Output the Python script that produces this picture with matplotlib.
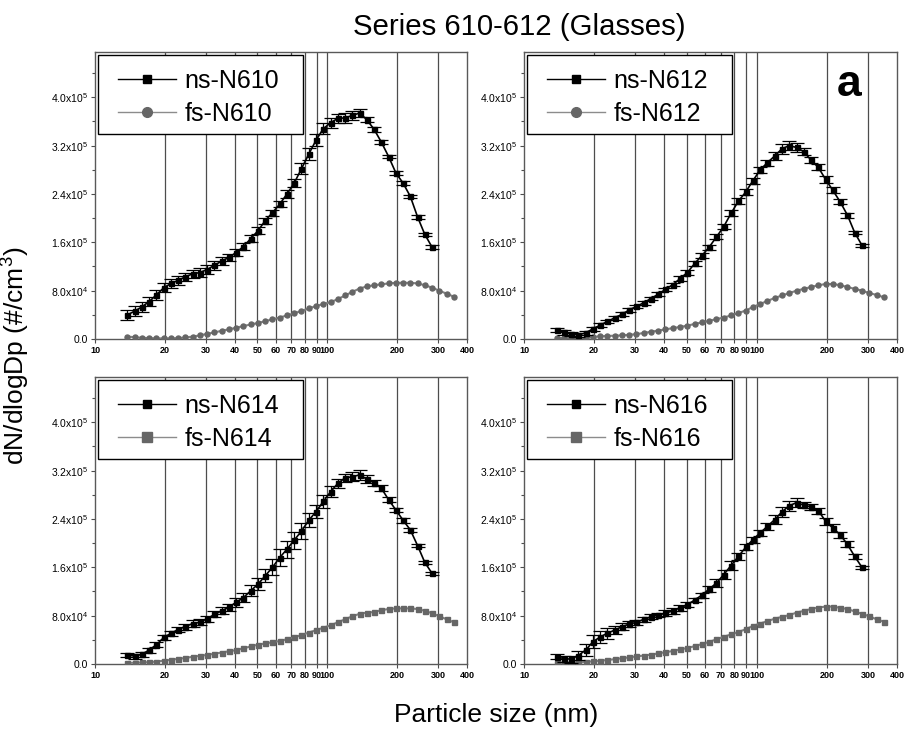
import matplotlib
matplotlib.use("Agg")
import matplotlib.pyplot as plt
from matplotlib.lines import Line2D
from matplotlib.patches import Rectangle

plt.rcParams['font.family'] = ['Liberation Sans', 'DejaVu Sans']
plt.rcParams['mathtext.fontset'] = 'custom'
plt.rcParams['mathtext.rm'] = 'Liberation Sans'

# particle diameters (nm) of the size channels
d_ns = [13.8, 14.8, 15.9, 17.1, 18.4, 19.8, 21.3, 22.8, 24.5, 26.4, 28.3, 30.4, 32.7, 35.1,
        37.7, 40.5, 43.6, 46.8, 50.3, 54.1, 58.1, 62.4, 67.1, 72.1, 77.5, 83.3, 89.5, 96.2,
        103.4, 111.1, 119.4, 128.3, 137.8, 148.1, 159.2, 171.0, 183.8, 197.5, 212.2, 228.0,
        245.0, 263.3, 282.9]
d_fs = d_ns + [304.0, 326.7, 351.1]

# dN/dlogDp in units of 1e4 #/cm3
ns610 = [4.0, 4.6, 5.3, 6.2, 7.3, 8.5, 9.2, 9.7, 10.3, 10.8, 11.0, 11.5, 12.2, 12.9, 13.5, 14.3,
         15.3, 16.6, 17.9, 19.6, 20.9, 22.3, 24.0, 25.8, 28.2, 30.6, 32.9, 34.8, 35.8, 36.5, 36.6,
         37.0, 37.4, 36.3, 34.7, 32.6, 30.2, 27.5, 25.8, 23.6, 20.2, 17.3, 15.2]
err610 = [0.8, 0.8, 0.8, 0.7, 0.8, 0.8, 0.8, 0.8, 0.7, 0.7, 0.7, 0.7, 0.7, 0.7, 0.6, 0.6, 0.6,
          0.6, 0.6, 0.5, 0.5, 0.5, 0.6, 0.7, 0.9, 1.0, 1.0, 0.9, 0.8, 0.7, 0.8, 0.7, 0.6, 0.4,
          0.4, 0.3, 0.3, 0.3, 0.3, 0.3, 0.3, 0.3, 0.3]
fs610 = [0.4, 0.3, 0.2, 0.15, 0.1, 0.1, 0.1, 0.15, 0.25, 0.4, 0.6, 0.85, 1.1, 1.35, 1.6, 1.85,
         2.15, 2.4, 2.65, 2.95, 3.25, 3.55, 3.9, 4.25, 4.65, 5.05, 5.45, 5.8, 6.1, 6.6, 7.2, 7.8,
         8.35, 8.7, 8.9, 9.05, 9.2, 9.3, 9.3, 9.3, 9.2, 8.9, 8.5, 8.0, 7.5, 7.0]

ns612 = [1.5, 1.1, 0.8, 0.7, 1.0, 1.7, 2.3, 2.9, 3.5, 4.1, 4.8, 5.4, 6.0, 6.7, 7.4, 8.2, 9.0,
         10.0, 11.0, 12.5, 13.8, 15.2, 16.9, 18.6, 20.8, 22.8, 24.3, 26.2, 28.0, 29.2, 30.3, 31.5,
         32.0, 31.7, 31.0, 29.6, 28.4, 26.4, 24.6, 22.7, 20.5, 17.6, 15.5]
err612 = [0.4, 0.4, 0.3, 0.3, 0.3, 0.3, 0.3, 0.3, 0.3, 0.3, 0.3, 0.3, 0.3, 0.3, 0.3, 0.3, 0.3,
          0.4, 0.4, 0.4, 0.4, 0.4, 0.4, 0.4, 0.5, 0.5, 0.5, 0.5, 0.5, 0.5, 0.6, 0.8, 0.8, 0.8,
          0.6, 0.5, 0.5, 0.6, 0.5, 0.4, 0.4, 0.3, 0.3]
fs612 = [0.2, 0.15, 0.1, 0.1, 0.2, 0.35, 0.45, 0.5, 0.55, 0.6, 0.7, 0.8, 1.0, 1.2, 1.4, 1.6,
         1.8, 2.0, 2.2, 2.5, 2.75, 3.0, 3.3, 3.55, 3.9, 4.3, 4.7, 5.3, 5.8, 6.3, 6.8, 7.2, 7.6,
         8.0, 8.3, 8.6, 8.9, 9.1, 9.1, 8.9, 8.6, 8.3, 8.0, 7.6, 7.3, 6.9]

ns614 = [1.5, 1.3, 1.6, 2.3, 3.2, 4.4, 5.1, 5.7, 6.2, 6.7, 6.9, 7.5, 8.2, 8.8, 9.4, 10.2, 11.0,
         12.1, 13.2, 14.6, 16.0, 17.6, 19.0, 20.5, 22.0, 23.8, 25.2, 26.9, 28.5, 29.9, 30.8, 31.0,
         31.3, 30.6, 30.0, 29.1, 27.2, 25.5, 23.8, 22.2, 19.6, 16.8, 15.0]
err614 = [0.4, 0.4, 0.4, 0.4, 0.4, 0.4, 0.4, 0.4, 0.5, 0.5, 0.5, 0.5, 0.5, 0.6, 0.6, 0.7, 0.8,
          0.9, 1.0, 1.1, 1.3, 1.4, 1.4, 1.4, 1.3, 1.2, 1.1, 1.0, 0.9, 0.8, 0.7, 0.7, 0.8, 0.6,
          0.5, 0.5, 0.4, 0.4, 0.4, 0.3, 0.3, 0.3, 0.3]
fs614 = [0.2, 0.2, 0.25, 0.3, 0.4, 0.55, 0.7, 0.85, 1.0, 1.2, 1.35, 1.5, 1.7, 1.9, 2.1, 2.3,
         2.6, 2.9, 3.2, 3.4, 3.6, 3.8, 4.1, 4.4, 4.8, 5.2, 5.6, 6.0, 6.4, 6.9, 7.4, 7.9, 8.3, 8.5,
         8.6, 8.9, 9.1, 9.2, 9.2, 9.2, 9.1, 8.8, 8.4, 7.9, 7.4, 6.9]

ns616 = [1.2, 0.9, 0.8, 1.4, 2.3, 3.7, 4.5, 5.1, 5.6, 6.2, 6.6, 6.9, 7.4, 7.8, 8.1, 8.4, 8.8,
         9.3, 9.8, 10.6, 11.4, 12.4, 13.4, 14.8, 16.3, 17.8, 19.3, 20.6, 21.7, 22.8, 23.9, 25.2,
         26.2, 26.7, 26.3, 26.0, 25.4, 23.6, 22.5, 21.4, 19.8, 17.8, 16.0]
err616 = [0.4, 0.5, 0.6, 0.8, 1.0, 1.1, 1.0, 0.9, 0.7, 0.6, 0.5, 0.4, 0.4, 0.4, 0.4, 0.5, 0.5,
          0.5, 0.4, 0.4, 0.4, 0.5, 0.6, 0.8, 0.8, 0.6, 0.5, 0.5, 0.5, 0.6, 0.7, 0.8, 0.8, 0.7,
          0.5, 0.5, 0.5, 0.6, 0.6, 0.5, 0.5, 0.4, 0.3]
fs616 = [0.2, 0.2, 0.2, 0.25, 0.35, 0.45, 0.55, 0.65, 0.8, 0.95, 1.1, 1.25, 1.4, 1.55, 1.75,
         1.95, 2.15, 2.4, 2.65, 2.95, 3.3, 3.65, 4.1, 4.5, 4.9, 5.3, 5.75, 6.3, 6.7, 7.1, 7.5,
         7.8, 8.1, 8.5, 8.8, 9.1, 9.35, 9.5, 9.5, 9.3, 9.1, 8.7, 8.3, 7.9, 7.4, 7.0]

names = ["N610", "N612", "N614", "N616"]
ns_all = [ns610, ns612, ns614, ns616]
err_all = [err610, err612, err614, err616]
fs_all = [fs610, fs612, fs614, fs616]
fs_markers = ['o', 'o', 's', 's']

xticks = [10, 20, 30, 40, 50, 60, 70, 80, 90, 100, 200, 300, 400]
xgrid = [20, 30, 40, 50, 60, 70, 80, 90, 100, 200, 300]
yticks = [0, 8e4, 1.6e5, 2.4e5, 3.2e5, 4.0e5]
ylabels = ["0.0", r"$\mathregular{8.0x10^{4}}$", r"$\mathregular{1.6x10^{5}}$",
           r"$\mathregular{2.4x10^{5}}$", r"$\mathregular{3.2x10^{5}}$", r"$\mathregular{4.0x10^{5}}$"]

fig = plt.figure(figsize=(9.05, 7.3), dpi=100)
W, H = 905.0, 730.0
boxes = [(95, 52, 467, 339), (524, 52, 897, 339), (95, 377, 467, 664), (524, 377, 897, 664)]

axes = []
legends = []
for i in range(4):
    x0, y0, x1, y1 = boxes[i]
    ax = fig.add_axes([x0 / W, 1 - y1 / H, (x1 - x0) / W, (y1 - y0) / H])
    ax.set_xscale('log')
    for g in xgrid:
        ax.axvline(g, color='0.3', lw=0.9, zorder=1)

    ns = [v * 1e4 for v in ns_all[i]]
    er = [v * 1e4 for v in err_all[i]]
    fs = [v * 1e4 for v in fs_all[i]]

    ax.plot(d_fs, fs, color='0.5', lw=1.5, marker=fs_markers[i], ms=3.6, mfc='0.4', mec='0.4',
            zorder=3)
    ax.errorbar(d_ns, ns, yerr=er, fmt='none', ecolor='black', elinewidth=0.9, capsize=5,
                capthick=0.9, zorder=4)
    ax.plot(d_ns, ns, color='black', lw=1.2, marker='s', ms=3.6, mfc='black', mec='black',
            zorder=5)

    ax.set_xlim(10, 400)
    ax.set_ylim(0, 4.75e5)
    ax.set_xticks(xticks)
    ax.set_xticklabels([str(t) for t in xticks], fontsize=6.5, fontweight='bold')
    ax.xaxis.set_minor_locator(matplotlib.ticker.NullLocator())
    ax.set_yticks(yticks)
    ax.set_yticklabels(ylabels, fontsize=7.5)
    ax.set_yticks([4e4, 1.2e5, 2.0e5, 2.8e5, 3.6e5, 4.4e5], minor=True)
    ax.tick_params(axis='both', which='major', direction='out', length=3, width=0.8,
                   color='0.3', pad=2)
    ax.tick_params(axis='y', which='minor', direction='out', length=2, width=0.8, color='0.3')
    for s in ax.spines.values():
        s.set_color('0.35')
        s.set_linewidth(1.0)

    handles = [Line2D([], [], color='black', lw=1.0, marker='s', ms=6, mfc='black', mec='black'),
               Line2D([], [], color='0.55', lw=1.0, marker=fs_markers[i], ms=7, mfc='0.4',
                      mec='0.4')]
    leg = ax.legend(handles, ["ns-" + names[i], "fs-" + names[i]], loc='upper left',
                    bbox_to_anchor=(15 / (x1 - x0), 1 - 9 / (y1 - y0)), borderaxespad=0,
                    fontsize=18, frameon=False, borderpad=0.32, labelspacing=0.36,
                    handlelength=2.3, handletextpad=0.35, numpoints=1)
    leg.set_zorder(8)
    axes.append(ax)
    legends.append(leg)

fig.text(849 / W, 1 - 96 / H, 'a', ha='center', va='baseline', fontsize=32, fontweight='bold')
fig.text(519 / W, 1 - 35 / H, 'Series 610-612 (Glasses)', ha='center', va='baseline',
         fontsize=21.2)
fig.text(496 / W, 1 - 722 / H, 'Particle size (nm)', ha='center', va='baseline', fontsize=19)
fig.text(15 / W, 1 - 356 / H, 'dN/dlogDp (#/cm$^3$)', ha='center', va='center',
         rotation=90, fontsize=19)

# legend frame, wider than the legend content like in the original
fig.canvas.draw()
renderer = fig.canvas.get_renderer()
for ax, leg in zip(axes, legends):
    bb = leg.get_window_extent(renderer)
    (ax0, ay0), (ax1, ay1) = ax.transAxes.inverted().transform([[bb.x0 - 12, bb.y0],
                                                                [bb.x1 + 16, bb.y1 + 6]])
    ax.add_patch(Rectangle((ax0, ay0), ax1 - ax0, ay1 - ay0, transform=ax.transAxes,
                           facecolor='white', edgecolor='black', lw=1.0, zorder=7,
                           clip_on=False))

fig.savefig('out.png', dpi=100)
